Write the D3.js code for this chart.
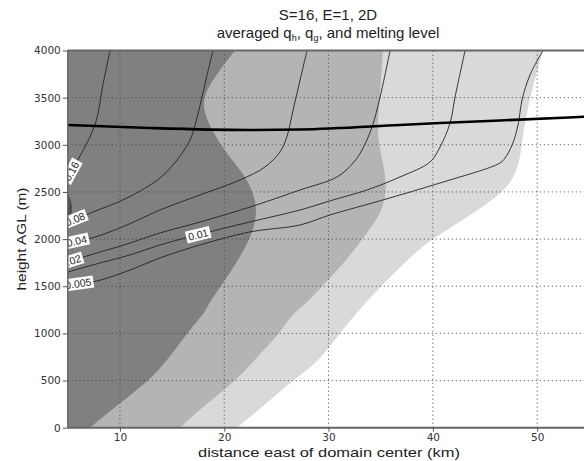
<!DOCTYPE html>
<html>
<head>
<meta charset="utf-8">
<script src="https://cdn.jsdelivr.net/npm/d3@7/dist/d3.min.js"></script>
<style>
  body { margin: 0; background: #fff; }
  text { font-family: "Liberation Sans", Arial, sans-serif; fill: #222; }
  .tick text { font-family: "DejaVu Sans", sans-serif; fill: #333; }
</style>
</head>
<body>
<svg id="chart" width="584" height="461"></svg>
<script>
// Axis ticks
const xTicks = [10, 20, 30, 40, 50];
const yTicks = [0, 500, 1000, 1500, 2000, 2500, 3000, 3500, 4000];

// Outer edge (km east, height m) of each shaded q_g band, top to bottom
const bandLight = [[50.56,4000],[49.31,3506],[48.84,3230],[48.55,3050],[48.36,2837],[47.69,2625],
  [46.15,2445],[43.85,2275],[41.36,2095],[39.73,1989],[37.52,1778],[34.65,1460],[32.35,1174],
  [30.81,962],[28.89,686],[26.59,506],[24.10,262],[21.22,0]];
const bandMedium = [[35.21,4000],[34.92,3508],[34.63,3158],[34.92,2946],[35.59,2627],[35.40,2415],
  [34.92,2256],[33.68,2066],[31.76,1779],[29.46,1512],[27.74,1301],[26.59,1216],[25.35,1004],
  [23.14,750],[21.22,506],[18.35,262],[15.76,0]];
const bandDark = [[21.05,4000],[19.40,3772],[17.87,3506],[18.15,3315],[18.83,3156],[20.08,2923],
  [21.99,2679],[22.85,2467],[23.14,2308],[22.85,2118],[22.18,1937],[20.74,1672],[19.40,1460],
  [18.44,1301],[17.96,1195],[16.43,1004],[14.80,750],[12.88,506],[10.0,262],[7.13,0]];
const bandDarkest = [[5,2480],[5.45,2380],[5.4,2250],[5,2210]];

// q_h contours (g/kg)
const qh016 = [[5,2648],[6.84,3020],[7.42,3158],[7.80,3286],[8.37,3636],[9.05,4000]];
const qh008 = [[5,2181],[7.42,2288],[10.68,2436],[13.84,2648],[15.47,2839],[16.72,3051],[17.2,3210],
  [17.87,3506],[18.35,3740],[18.92,4000]];
const qh004 = [[5,1959],[7.61,2022],[10.68,2150],[13.84,2309],[17.67,2468],[21.51,2627],[23.9,2765],
  [25.34,2924],[26.0,3083],[26.6,3369],[27.27,3687],[27.94,4000]];
const qh002 = [[5,1757],[7.13,1831],[10.68,1948],[13.84,2065],[17.67,2181],[22.47,2340],[27.27,2521],
  [30.81,2659],[32.35,2807],[33.21,2945],[34.17,3189],[34.94,3506],[35.9,4000]];
const qh001 = [[5,1651],[8.09,1747],[10.97,1832],[13.84,1938],[17.0,2033],[22.47,2182],[27.27,2309],
  [30.43,2415],[33.69,2521],[36.85,2659],[39.73,2818],[40.69,2977],[41.65,3231],[42.13,3506],[43.09,4000]];
const qh0005 = [[5,1513],[7.8,1556],[10.97,1672],[13.84,1800],[17.67,1938],[22.47,2076],[27.27,2150],
  [30.14,2256],[35.21,2415],[40.69,2595],[46.44,2807],[46.92,2860],[47.6,2998],[48.17,3210],
  [48.55,3475],[49.31,3740],[50.56,4000]];
const contourValues = ["0.16", "0.08", "0.04", "0.02", "0.01", "0.005"];
const contourLines = [qh016, qh008, qh004, qh002, qh001, qh0005];
// km along each contour where its value is written
const contourLabelKm = [5.35, 5.7, 5.85, 5.3, 17.5, 6.0];

// Melting level (m)
const meltKm = [5, 12.88, 22.47, 27.27, 36.85, 40.69, 46.44, 55];
const meltM  = [3210, 3178, 3157, 3162, 3210, 3231, 3258, 3300];

const svg = d3.select("#chart");
svg.append("rect").attr("width", 584).attr("height", 461).attr("fill", "#fff");

const x = d3.scaleLinear().domain([5, 55]).range([67.8, 589.3]);
const y = d3.scaleLinear().domain([0, 4000]).range([427.7, 50.5]);

svg.append("defs").append("clipPath").attr("id", "plot")
  .append("rect")
  .attr("x", x(5)).attr("y", y(4000))
  .attr("width", x(55) - x(5)).attr("height", y(0) - y(4000));

const plot = svg.append("g").attr("clip-path", "url(#plot)");

// shaded bands, lightest first
const band = d3.area()
  .y(d => y(d[1])).x0(x(5)).x1(d => x(d[0]))
  .curve(d3.curveBasis);
[[bandLight, "#d9d9d9"], [bandMedium, "#b4b4b4"], [bandDark, "#808080"], [bandDarkest, "#4d4d4d"]]
  .forEach(([pts, fill]) => plot.append("path").attr("d", band(pts)).attr("fill", fill));

// dotted grid
const grid = plot.append("g").attr("stroke", "#444").attr("stroke-width", 1)
  .attr("stroke-dasharray", "1,3");
xTicks.forEach(t => grid.append("line")
  .attr("x1", x(t)).attr("x2", x(t)).attr("y1", y(0)).attr("y2", y(4000)));
yTicks.filter(t => t > 0 && t < 4000).forEach(t => grid.append("line")
  .attr("x1", x(5)).attr("x2", x(55)).attr("y1", y(t)).attr("y2", y(t)));

// q_h contours
const cline = d3.line().x(d => x(d[0])).y(d => y(d[1])).curve(d3.curveCatmullRom.alpha(0.5));
contourLines.forEach(pts => plot.append("path").attr("d", cline(pts))
  .attr("fill", "none").attr("stroke", "#222").attr("stroke-width", 0.9));

// melting level
const melt = meltKm.map((k, i) => [k, meltM[i]]);
plot.append("path").attr("d", d3.line().x(d => x(d[0])).y(d => y(d[1])).curve(d3.curveMonotoneX)(melt))
  .attr("fill", "none").attr("stroke", "#000").attr("stroke-width", 2.6);

// contour labels on white boxes, rotated along the line
contourLines.forEach((pts, i) => {
  const k = contourLabelKm[i];
  let j = 0;
  while (j < pts.length - 2 && pts[j + 1][0] < k) j++;
  const a = pts[j], b = pts[j + 1];
  const t = (k - a[0]) / (b[0] - a[0]);
  const m = a[1] + t * (b[1] - a[1]);
  const ang = Math.atan2(y(b[1]) - y(a[1]), x(b[0]) - x(a[0])) * 180 / Math.PI;
  const lg = plot.append("g").attr("transform", `translate(${x(k)},${y(m)}) rotate(${ang})`);
  const txt = lg.append("text").attr("text-anchor", "middle").attr("dy", "0.36em")
    .attr("font-size", 10.5).text(contourValues[i]);
  const bb = txt.node().getBBox();
  lg.insert("rect", "text").attr("x", bb.x - 2).attr("y", -6).attr("width", bb.width + 4)
    .attr("height", 12).attr("fill", "#fff");
});

// frame
const frame = svg.append("g").attr("stroke", "#666").attr("fill", "none");
frame.append("line").attr("x1", x(5)).attr("x2", x(55)).attr("y1", y(4000)).attr("y2", y(4000)).attr("stroke-width", 2);
frame.append("line").attr("x1", x(5)).attr("x2", x(55)).attr("y1", y(0)).attr("y2", y(0)).attr("stroke-width", 2);
frame.append("line").attr("x1", x(5)).attr("x2", x(5)).attr("y1", y(0)).attr("y2", y(4000)).attr("stroke-width", 1.5);

// axes
const yAxis = svg.append("g").attr("transform", `translate(${x(5)},0)`)
  .call(d3.axisLeft(y).tickValues(yTicks).tickFormat(d3.format("d")).tickSize(5).tickPadding(2));
const xAxis = svg.append("g").attr("transform", `translate(0,${y(0)})`)
  .call(d3.axisBottom(x).tickValues(xTicks).tickFormat(d3.format("d")).tickSize(4).tickPadding(2));
[yAxis, xAxis].forEach(a => {
  a.select(".domain").remove();
  a.selectAll(".tick line").attr("stroke", "#555");
  a.selectAll(".tick text").attr("font-size", 10.5);
});

// titles
svg.append("text").attr("x", 328).attr("y", 20).attr("text-anchor", "middle")
  .attr("font-size", 15).text("S=16, E=1, 2D");
const t2 = svg.append("text").attr("x", 328).attr("y", 38).attr("text-anchor", "middle").attr("font-size", 15);
t2.append("tspan").text("averaged q");
t2.append("tspan").attr("font-size", 9).attr("dy", 3).text("h");
t2.append("tspan").attr("dy", -3).text(", q");
t2.append("tspan").attr("font-size", 9).attr("dy", 3).text("g");
t2.append("tspan").attr("dy", -3).text(", and melting level");

svg.append("text").attr("x", 329).attr("y", 457).attr("text-anchor", "middle")
  .attr("font-size", 13).attr("textLength", 262).attr("lengthAdjust", "spacingAndGlyphs")
  .text("distance east of domain center (km)");
svg.append("text").attr("transform", "translate(26,239) rotate(-90)").attr("text-anchor", "middle")
  .attr("font-size", 13.5).attr("textLength", 103).attr("lengthAdjust", "spacingAndGlyphs")
  .text("height AGL (m)");
</script>
</body>
</html>
